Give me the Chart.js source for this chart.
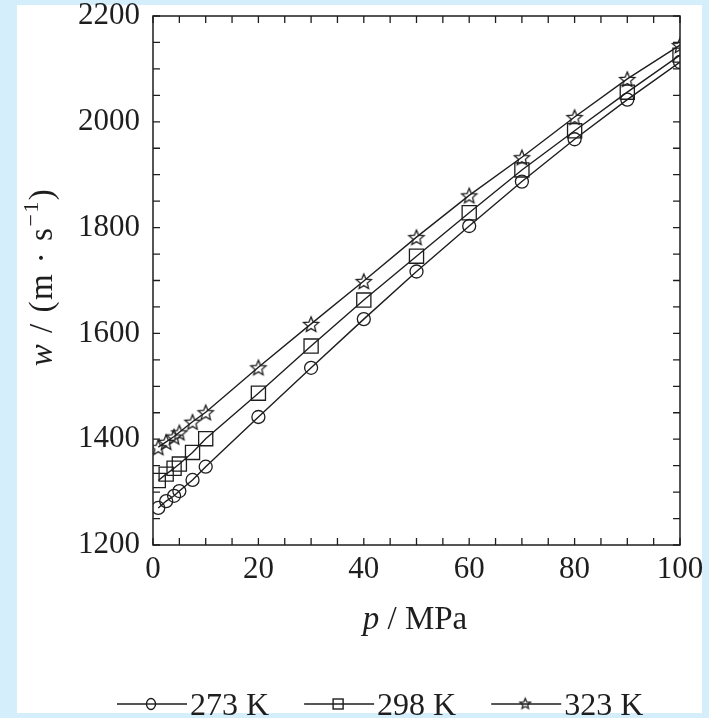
<!DOCTYPE html>
<html>
<head>
<meta charset="utf-8">
<script src="https://cdn.jsdelivr.net/npm/chart.js@4.4.1/dist/chart.umd.min.js"></script>
<style>
  html, body { margin: 0; padding: 0; background: #d5eefb; }
  #wrap { position: absolute; left: 0; top: 0; width: 709px; height: 718px; }
</style>
</head>
<body>
<div id="wrap"><canvas id="grafico"></canvas></div>
<script>
// dados
const pressao = [1, 2.5, 4, 5, 7.5, 10, 20, 30, 40, 50, 60, 70, 80, 90, 100];
const w273 = [1270, 1283, 1293, 1302, 1323, 1348, 1442, 1535, 1627, 1717, 1803, 1887, 1967, 2042, 2113];
const w298 = [1322, 1334, 1345, 1353, 1375, 1401, 1487, 1576, 1663, 1746, 1828, 1909, 1983, 2056, 2126];
const w323 = [1385, 1395, 1405, 1413, 1433, 1451, 1536, 1618, 1699, 1782, 1861, 1933, 2009, 2081, 2145];
const rotulos = ['273 K', '298 K', '323 K'];
const xTicks = [0, 20, 40, 60, 80, 100];
const yTicks = [1200, 1400, 1600, 1800, 2000, 2200];

const serif = "'Liberation Serif', 'Times New Roman', serif";
const tinta = '#1e1e1e';

// estrela de 5 pontas (contorno), usada como pointStyle
function fazEstrela(rOut, rIn) {
    const c = document.createElement('canvas');
    const s = Math.ceil(rOut * 2 + 4);
    c.width = s; c.height = s;
    const g = c.getContext('2d');
    g.strokeStyle = tinta;
    g.lineWidth = 1.3;
    g.beginPath();
    for (let i = 0; i < 10; i++) {
        const r = i % 2 === 0 ? rOut : rIn;
        const a = -Math.PI / 2 + i * Math.PI / 5;
        const px = s / 2 + r * Math.cos(a);
        const py = s / 2 + 1 + r * Math.sin(a);
        if (i === 0) g.moveTo(px, py); else g.lineTo(px, py);
    }
    g.closePath();
    g.stroke();
    return c;
}
const estrela = fazEstrela(8, 3.6);
const estrelaPeq = fazEstrela(5.5, 2.5);

const toXY = (vals) => vals.map((v, i) => ({ x: pressao[i], y: v }));

// fundo azul + painel branco
const fundo = {
    id: 'fundo',
    beforeDraw(chart) {
        const ctx = chart.ctx;
        ctx.save();
        ctx.fillStyle = '#d5eefb';
        ctx.fillRect(0, 0, chart.width, chart.height);
        ctx.fillStyle = '#ffffff';
        ctx.fillRect(17, 5, 685, 708);
        ctx.restore();
    }
};

// moldura, marcas para dentro, títulos dos eixos e legenda
const moldura = {
    id: 'moldura',
    afterDraw(chart) {
        const ctx = chart.ctx;
        const a = chart.chartArea;
        const xs = chart.scales.x, ys = chart.scales.y;
        ctx.save();
        ctx.strokeStyle = tinta;
        ctx.lineWidth = 1.5;
        ctx.strokeRect(a.left, a.top, a.right - a.left, a.bottom - a.top);

        ctx.lineWidth = 1.3;
        ctx.beginPath();
        for (let v = xs.min; v <= xs.max; v += 5) {
            const px = xs.getPixelForValue(v);
            ctx.moveTo(px, a.bottom); ctx.lineTo(px, a.bottom - 7);
            ctx.moveTo(px, a.top); ctx.lineTo(px, a.top + 7);
        }
        for (let v = ys.min; v <= ys.max; v += 50) {
            const py = ys.getPixelForValue(v);
            ctx.moveTo(a.left, py); ctx.lineTo(a.left + 7, py);
            ctx.moveTo(a.right, py); ctx.lineTo(a.right - 7, py);
        }
        ctx.stroke();

        ctx.fillStyle = tinta;
        ctx.textBaseline = 'alphabetic';

        // título x: "p / MPa"
        const fx = 33;
        ctx.font = 'italic ' + fx + 'px ' + serif;
        const tp = 'p';
        const wp = ctx.measureText(tp).width;
        ctx.font = fx + 'px ' + serif;
        const resto = ' / MPa';
        const wr = ctx.measureText(resto).width;
        let x0 = 415 - (wp + wr) / 2;
        ctx.font = 'italic ' + fx + 'px ' + serif;
        ctx.fillText(tp, x0, 629);
        ctx.font = fx + 'px ' + serif;
        ctx.fillText(resto, x0 + wp, 629);

        // título y: "w / (m · s⁻¹)"
        ctx.save();
        ctx.translate(52, 277);
        ctx.rotate(-Math.PI / 2);
        const partes = [
            { t: 'w', f: 'italic ' + fx + 'px ' + serif, dy: 0 },
            { t: ' / (m \u00b7 s', f: fx + 'px ' + serif, dy: 0 },
            { t: '\u22121', f: '22px ' + serif, dy: -14 },
            { t: ')', f: fx + 'px ' + serif, dy: 0 }
        ];
        ctx.letterSpacing = '1.5px';
        let total = 0;
        partes.forEach(p => { ctx.font = p.f; p.w = ctx.measureText(p.t).width; total += p.w; });
        let px = -total / 2;
        partes.forEach(p => { ctx.font = p.f; ctx.fillText(p.t, px, p.dy); px += p.w; });
        ctx.restore();

        // legenda
        ctx.font = '32px ' + serif;
        const yLeg = 704;
        const larg = 70, gap = 35;
        let gx = 117;
        rotulos.forEach((r, i) => {
            ctx.strokeStyle = tinta;
            ctx.beginPath();
            ctx.lineWidth = 1.6;
            ctx.moveTo(gx, yLeg); ctx.lineTo(gx + larg, yLeg);
            ctx.stroke();
            const mx = gx + 34;
            ctx.lineWidth = 1.4;
            if (i === 0) {
                ctx.fillStyle = '#fff';
                ctx.beginPath(); ctx.ellipse(mx, yLeg, 4.5, 5.5, 0, 0, Math.PI * 2); ctx.fill(); ctx.stroke();
                ctx.beginPath(); ctx.moveTo(mx - 4.5, yLeg); ctx.lineTo(mx + 4.5, yLeg); ctx.stroke();
            } else if (i === 1) {
                ctx.strokeRect(mx - 5, yLeg - 5, 10, 10);
            } else {
                ctx.drawImage(estrelaPeq, mx - estrelaPeq.width / 2, yLeg - estrelaPeq.height / 2 - 1);
            }
            ctx.fillStyle = tinta;
            ctx.textBaseline = 'alphabetic';
            ctx.fillText(r, gx + larg + 3, 715);
            gx += larg + 3 + ctx.measureText(r).width + gap;
        });
        ctx.restore();
    }
};

const serie = (label, vals, estilo, raio) => ({
    label: label,
    data: toXY(vals),
    borderColor: tinta,
    borderWidth: 1.4,
    pointStyle: estilo,
    pointRadius: raio,
    pointBorderColor: tinta,
    pointBackgroundColor: 'rgba(0,0,0,0)',
    pointBorderWidth: 1.3,
    fill: false,
    tension: 0
});

const semPadding = (s) => { s.paddingTop = 0; s.paddingBottom = 0; s.paddingLeft = 0; s.paddingRight = 0; };

new Chart(document.getElementById('grafico'), {
    type: 'line',
    data: {
        datasets: [
            serie(rotulos[0], w273, 'circle', 6.5),
            serie(rotulos[1], w298, 'rect', 10),
            serie(rotulos[2], w323, estrela, 8)
        ]
    },
    options: {
        responsive: true,
        maintainAspectRatio: false,
        animation: false,
        layout: { padding: { left: 0, top: 16, right: 29, bottom: 0 } },
        plugins: {
            legend: { display: false },
            tooltip: { enabled: false }
        },
        scales: {
            x: {
                type: 'linear',
                min: 0, max: 100,
                afterFit: (s) => { s.height = 718 - 545; semPadding(s); },
                afterBuildTicks: (s) => { s.ticks = xTicks.map(v => ({ value: v })); },
                grid: { display: false, drawTicks: false },
                border: { display: false },
                ticks: { color: tinta, padding: 9, callback: (v) => String(v), font: { family: serif, size: 31, lineHeight: 1 } }
            },
            y: {
                type: 'linear',
                min: 1200, max: 2200,
                afterFit: (s) => { s.width = 153; semPadding(s); },
                afterBuildTicks: (s) => { s.ticks = yTicks.map(v => ({ value: v })); },
                grid: { display: false, drawTicks: false },
                border: { display: false },
                ticks: { color: tinta, padding: 13, callback: (v) => String(v), font: { family: serif, size: 31, lineHeight: 1 } }
            }
        }
    },
    plugins: [fundo, moldura]
});
</script>
</body>
</html>
